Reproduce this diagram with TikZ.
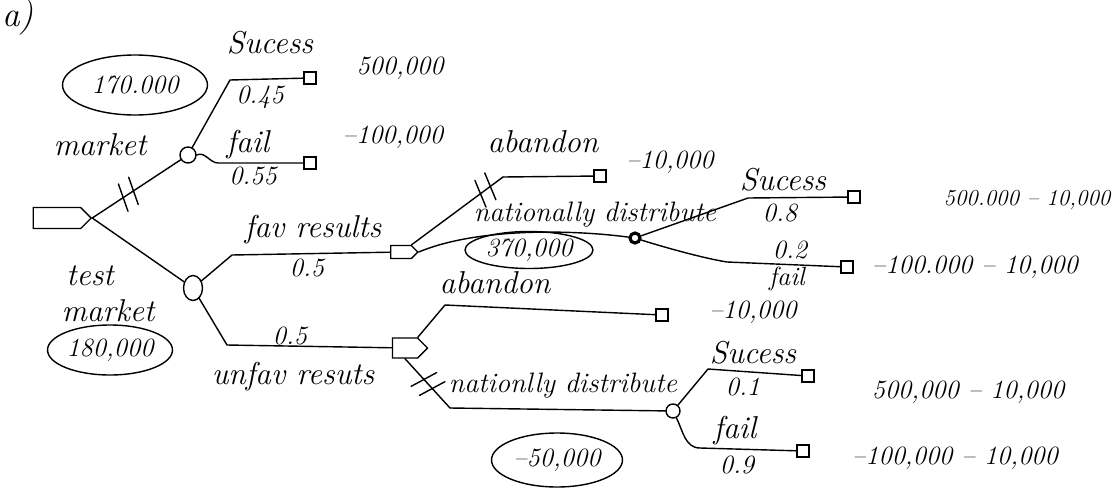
\documentclass[tikz,border=0pt]{standalone}
\usepackage{tikz}
\usetikzlibrary{calc,shapes.symbols,shapes.geometric,decorations.markings}
\tikzset{
  base/.style={draw=black, line width=0.8pt, line cap=round, line join=round},
  dec/.style={draw=black, line width=0.8pt, shape=signal, signal to=east, inner sep=0pt},
  chance/.style={draw=black, line width=0.8pt, circle, inner sep=0pt, minimum size=0.3cm},
  leaf/.style={draw=black, line width=0.8pt, rectangle, inner sep=0pt, minimum size=0.24cm},
  lab/.style={text=black, inner sep=0pt, font=\fontsize{18}{20}\selectfont\itshape},
  num/.style={text=black, inner sep=0pt, font=\fontsize{15}{18}\selectfont\itshape},
  val/.style={num, draw=black, line width=0.8pt, ellipse},
  hash2/.style={postaction={decorate, decoration={markings,
      mark=at position #1 with {\draw[base] (-5pt,-8pt) -- (-1pt,8pt);
                                \draw[base] (2pt,-8pt) -- (6pt,8pt);}}}},
}

\begin{document}
\begin{tikzpicture}[x=0.02cm, y=-0.02cm]
  \useasboundingbox (0,0) rectangle (1114,497);
  \node[lab, font=\fontsize{20}{22}\selectfont\itshape] (part) at (18,18) {a)};

  % decision and chance nodes
  \node[dec, minimum width=1.16cm, minimum height=0.42cm] (root) at (57,218) {};
  \node[chance, minimum size=0.32cm] (market) at (188,155) {};
  \node[chance, ellipse, minimum width=0.38cm, minimum height=0.5cm] (test) at (193,288) {};
  \node[dec, minimum width=0.54cm, minimum height=0.26cm] (fav) at (401,252) {};
  \node[dec, minimum width=0.7cm, minimum height=0.4cm] (unfav) at (405,348) {};
  \node[chance, fill=white, line width=1.8pt, minimum size=0.2cm] (natA) at (635,238) {};
  \node[chance, minimum size=0.28cm] (natB) at (673,411) {};

  % end points
  \node[leaf] (l1) at (310,78) {};
  \node[leaf] (l2) at (310,163) {};
  \node[leaf] (l3) at (600,176) {};
  \node[leaf] (l4) at (854,197) {};
  \node[leaf] (l5) at (847,267) {};
  \node[leaf] (l6) at (662,315) {};
  \node[leaf] (l7) at (808,376) {};
  \node[leaf] (l8) at (803,451) {};

  \coordinate (c1) at (230,80);
  \coordinate (c2) at (218,163);
  \coordinate (c3) at (232,255);
  \coordinate (c4) at (227,345);
  \coordinate (c5) at (503,177);
  \coordinate (c6) at (748,198);
  \coordinate (c7) at (727,262);
  \coordinate (c8) at (445,305);
  \coordinate (c9) at (450,408);
  \coordinate (c10) at (708,369);
  \coordinate (c11) at (700,448);

  % branches
  \draw[base, hash2=0.4] (root.east) -- (market);
  \draw[base] (root.east) -- (test);
  \draw[base] (market) -- (c1) -- (l1);
  \draw[base] (market.east) .. controls +(8,-4) and +(-8,0) .. (c2) -- (l2);
  \draw[base] (test) -- (c3) -- (fav);
  \draw[base] (test) -- (c4) -- (unfav);
  \draw[base, hash2=0.8] (fav.north east) -- (c5);
  \draw[base] (c5) -- (l3);
  \draw[base] (fav.east) .. controls +(60,-25) and +(-60,-8) .. (natA);
  \draw[base] (natA) -- (c6) -- (l4);
  \draw[base] (natA) .. controls +(25,8) and +(-25,-4) .. (c7) -- (l5);
  \draw[base] (unfav.north east) -- (c8) -- (l6);
  \draw[base, hash2=0.5] (unfav.south) -- (c9);
  \draw[base] (c9) -- (natB);
  \draw[base] (natB) -- (c10) -- (l7);
  \draw[base] (natB) .. controls +(10,20) and +(-15,0) .. (c11) -- (l8);

  % labels
  \node[lab] (m1) at (270,43) {Sucess};
  \node[num] (p1) at (260,97) {0.45};
  \node[num] (v1) at (400,68) {500,000};
  \node[lab] (m2) at (248,145) {fail};
  \node[num] (p2) at (253,176) {0.55};
  \node[num] (v2) at (393,137) {--100,000};
  \node[lab] (mk) at (100,145) {market};
  \node[val, minimum width=2.9cm, minimum height=1.2cm] (e1) at (135,85) {170.000};

  \node[lab] (tst) at (90,276) {test};
  \node[lab] (tmk) at (108,311) {market};
  \node[val, minimum width=2.5cm, minimum height=1.0cm] (e2) at (110,350) {180,000};

  \node[lab] (fr) at (313,230) {fav results};
  \node[num] (p3) at (307,268) {0.5};
  \node[num] (p4) at (290,336) {0.5};
  \node[lab] (ur) at (293,377) {unfav resuts};

  \node[lab] (ab1) at (543,142) {abandon};
  \node[num] (v3) at (670,162) {--10,000};
  \node[lab, font=\fontsize{16}{18}\selectfont\itshape] (nd1) at (595,215) {nationally distribute};
  \node[val, minimum width=2.56cm, minimum height=0.74cm] (e3) at (529,250) {370,000};
  \node[lab] (m3) at (783,180) {Sucess};
  \node[num] (p5) at (780,213) {0.8};
  \node[num, font=\fontsize{13}{16}\selectfont\itshape] (v4) at (1027,200) {500.000 -- 10,000};
  \node[num] (p6) at (790,250) {0.2};
  \node[num] (m4) at (787,279) {fail};
  \node[num] (v5) at (975,267) {--100.000 -- 10,000};

  \node[lab] (ab2) at (495,283) {abandon};
  \node[num] (v6) at (753,312) {--10,000};
  \node[lab, font=\fontsize{16}{18}\selectfont\itshape] (nd2) at (563,386) {nationlly distribute};
  \node[val, minimum width=2.62cm, minimum height=1.08cm] (e4) at (557,460) {--50,000};
  \node[lab] (m5) at (753,353) {Sucess};
  \node[num] (p7) at (743,387) {0.1};
  \node[num] (v7) at (968,392) {500,000 -- 10,000};
  \node[lab] (m6) at (735,431) {fail};
  \node[num] (p8) at (737,465) {0.9};
  \node[num] (v8) at (955,458) {--100,000 -- 10,000};
\end{tikzpicture}
\end{document}
